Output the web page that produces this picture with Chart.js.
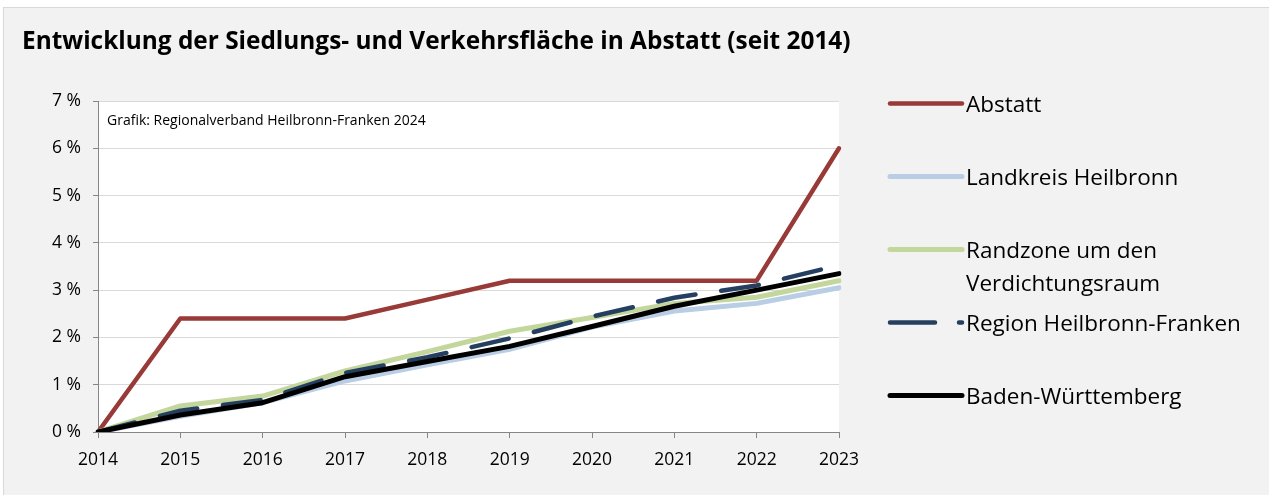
<!DOCTYPE html>
<html lang="de">
<head>
<meta charset="utf-8">
<title>Siedlungs- und Verkehrsfläche Abstatt</title>
<script src="https://cdn.jsdelivr.net/npm/chart.js@4"></script>
<style>
  html, body { margin: 0; padding: 0; background: #fff; }
  body { width: 1269px; height: 495px; position: relative; overflow: hidden; font-family: "Open Sans", sans-serif; }
  #frame {
    position: absolute; left: 3px; top: 7px; width: 1265px; height: 487px;
    background: #f2f2f2; border: 1px solid #d9d9d9; border-right: none; border-bottom: none;
  }
  #chart-wrap { position: absolute; left: 0; top: 0; width: 1265px; height: 487px; }
  #title {
    position: absolute; left: 18px; top: 16px; margin: 0;
    font: bold 24.4px/32px "Open Sans", sans-serif; color: #000; white-space: nowrap;
  }
  #legend { position: absolute; left: 0; top: 0; }
  .leg-item { position: absolute; display: flex; align-items: flex-start; }
  .leg-item span { font-size: 22.5px; line-height: 33px; color: #000; white-space: nowrap; }
</style>
</head>
<body>
<div id="frame">
  <div id="chart-wrap"><canvas id="chart-flaeche"></canvas></div>
  <h1 id="title">Entwicklung der Siedlungs- und Verkehrsfläche in Abstatt (seit 2014)</h1>
  <div id="legend"></div>
</div>
<script>
// Zuwachs der Siedlungs- und Verkehrsfläche gegenüber 2014, in Prozent
const years = ['2014', '2015', '2016', '2017', '2018', '2019', '2020', '2021', '2022', '2023'];
const abstatt = [0, 2.4, 2.4, 2.4, 2.8, 3.2, 3.2, 3.2, 3.2, 6.0];
const landkreisHeilbronn = [0, 0.33, 0.62, 1.08, 1.42, 1.75, 2.22, 2.56, 2.72, 3.05];
const randzone = [0, 0.55, 0.76, 1.29, 1.70, 2.13, 2.42, 2.72, 2.85, 3.20];
const regionHNF = [0, 0.45, 0.68, 1.25, 1.58, 1.98, 2.44, 2.84, 3.10, 3.53];
const badenWuerttemberg = [0, 0.36, 0.62, 1.17, 1.49, 1.81, 2.23, 2.66, 3.00, 3.35];
const yTicks = [0, 1, 2, 3, 4, 5, 6, 7];

const series = [
  { label: ['Abstatt'], data: abstatt, color: '#983a37', width: 4.5, dash: [] },
  { label: ['Landkreis Heilbronn'], data: landkreisHeilbronn, color: '#b9cde5', width: 5, dash: [] },
  { label: ['Randzone um den', 'Verdichtungsraum'], data: randzone, color: '#c3d69b', width: 5, dash: [] },
  { label: ['Region Heilbronn-Franken'], data: regionHNF, color: '#243f60', width: 4.5, dash: [38, 26] },
  { label: ['Baden-Württemberg'], data: badenWuerttemberg, color: '#000000', width: 5, dash: [] }
];

// white plot area + source note
const plotArea = {
  id: 'plotArea',
  beforeDraw(chart) {
    const { ctx, chartArea: a } = chart;
    ctx.save();
    ctx.fillStyle = '#ffffff';
    ctx.fillRect(a.left, a.top, a.right - a.left, a.bottom - a.top);
    ctx.restore();
  },
  afterDatasetsDraw(chart) {
    const { ctx, chartArea: a } = chart;
    ctx.save();
    ctx.font = '14px "Open Sans", sans-serif';
    ctx.fillStyle = '#000';
    ctx.textBaseline = 'middle';
    ctx.fillText('Grafik: Regionalverband Heilbronn-Franken 2024', a.left + 9, a.top + 20);
    ctx.restore();
  }
};

const chart = new Chart(document.getElementById('chart-flaeche'), {
  type: 'line',
  data: {
    labels: years,
    datasets: series.map((s, i) => ({
      label: s.label.join(' '),
      data: s.data,
      borderColor: s.color,
      backgroundColor: s.color,
      borderWidth: s.width,
      borderDash: s.dash,
      borderCapStyle: 'round',
      borderJoinStyle: 'round',
      pointRadius: 0,
      tension: 0,
      order: series.length - i
    }))
  },
  options: {
    responsive: true,
    maintainAspectRatio: false,
    animation: false,
    layout: { padding: { top: 93, left: 24, right: 430, bottom: 23 } },
    plugins: {
      legend: { display: false },
      tooltip: { enabled: false }
    },
    scales: {
      x: {
        grid: { drawOnChartArea: false, drawTicks: true, tickLength: 6, tickColor: '#868686' },
        border: { color: '#868686', width: 1 },
        ticks: { color: '#000', font: { family: 'Open Sans', size: 17.5 }, padding: 12, maxRotation: 0 },
        afterFit: scale => { scale.height = 40; }
      },
      y: {
        min: 0,
        max: 7,
        afterBuildTicks: scale => { scale.ticks = yTicks.map(v => ({ value: v })); },
        grid: { color: '#d9d9d9', lineWidth: 1, tickLength: 5, tickColor: '#868686' },
        border: { color: '#868686', width: 1 },
        ticks: {
          color: '#000',
          font: { family: 'Open Sans', size: 17.5 },
          padding: 12,
          callback: v => v + ' %'
        },
        afterFit: scale => { scale.width = 70; }
      }
    }
  },
  plugins: [plotArea]
});

// legend built from the same series list; rows are vertical centres in the frame
const legendRows = [95, 168, 241, 314, 387];
const legend = document.getElementById('legend');
series.forEach((s, i) => {
  const item = document.createElement('div');
  item.className = 'leg-item';
  item.style.left = '878px';
  item.style.top = (legendRows[i] - 16.5) + 'px';
  const svg = document.createElementNS('http://www.w3.org/2000/svg', 'svg');
  svg.setAttribute('width', '84');
  svg.setAttribute('height', '33');
  const line = document.createElementNS('http://www.w3.org/2000/svg', 'line');
  line.setAttribute('x1', '8');
  line.setAttribute('x2', '80');
  line.setAttribute('y1', '16.5');
  line.setAttribute('y2', '16.5');
  line.setAttribute('stroke', s.color);
  line.setAttribute('stroke-width', s.width);
  line.setAttribute('stroke-linecap', 'round');
  if (s.dash.length) line.setAttribute('stroke-dasharray', '45 24');
  svg.appendChild(line);
  item.appendChild(svg);
  const text = document.createElement('span');
  text.innerHTML = s.label.join('<br>');
  item.appendChild(text);
  legend.appendChild(item);
});
</script>
</body>
</html>
